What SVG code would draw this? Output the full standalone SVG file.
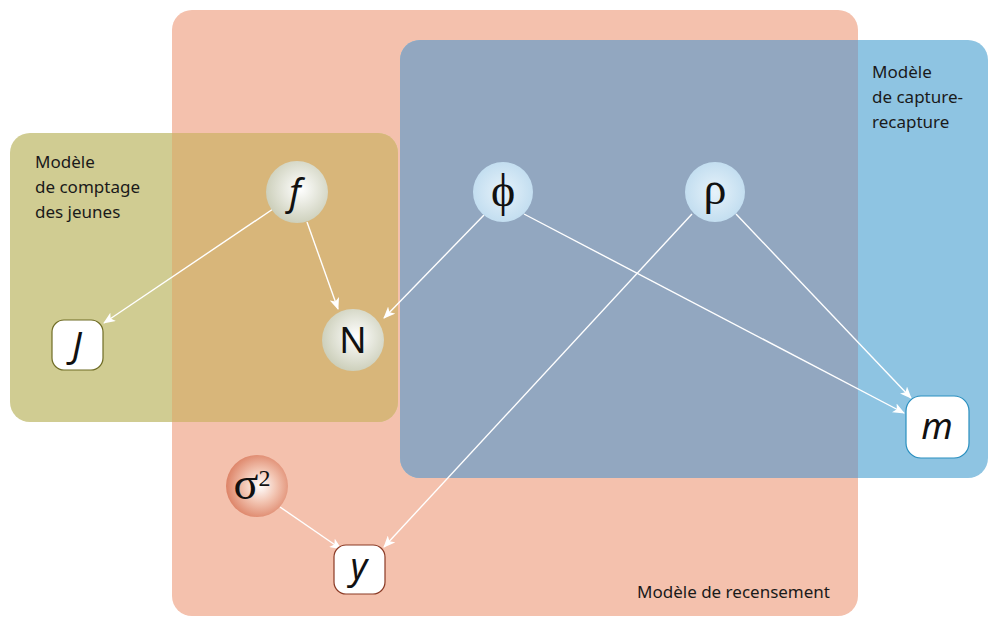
<svg xmlns="http://www.w3.org/2000/svg" width="990" height="618" viewBox="0 0 990 618">
<defs>
<style>
.lbl{font-family:"Noto Sans","Liberation Sans",sans-serif;font-size:17px;fill:#1a1a1a}
.sym{font-family:"Noto Sans","Liberation Sans",sans-serif;font-size:36px;fill:#111;text-anchor:middle}
.it{font-style:italic}
.gr{font-family:"Liberation Serif","DejaVu Serif",serif;font-size:46px;fill:#111;text-anchor:middle}
.edge{stroke:#ffffff;stroke-width:1.4;fill:none;marker-end:url(#ah)}
</style>
<marker id="ah" viewBox="0 0 12 10" refX="11" refY="5" markerWidth="12" markerHeight="10" markerUnits="userSpaceOnUse" orient="auto">
<path d="M0,0 L12,5 L0,10 L3,5 Z" fill="#ffffff"/>
</marker>
<radialGradient id="gOl" cx="0.55" cy="0.45" r="0.6">
<stop offset="0" stop-color="#ffffff"/>
<stop offset="1" stop-color="#c9ccb6"/>
</radialGradient>
<radialGradient id="gBl" cx="0.5" cy="0.5" r="0.6">
<stop offset="0" stop-color="#e6f2fa"/>
<stop offset="1" stop-color="#bcdaee"/>
</radialGradient>
<radialGradient id="gRd" cx="0.55" cy="0.5" r="0.6">
<stop offset="0" stop-color="#ffffff"/>
<stop offset="0.45" stop-color="#f2c3b0"/>
<stop offset="1" stop-color="#d9785a"/>
</radialGradient>
</defs>
<rect width="990" height="618" fill="#ffffff"/>
<g id="zones">
<rect id="recensement" x="172" y="10" width="686" height="606" rx="20" fill="#f4c1ad"/>
<rect id="comptage" x="10" y="133" width="388" height="289" rx="20" fill="#d0cc92"/>
<rect id="capture" x="400" y="40" width="588" height="438" rx="20" fill="#8ec4e2"/>
<path d="M172,133 H378 A20,20 0 0 1 398,153 V402 A20,20 0 0 1 378,422 H172 Z" fill="#d8b67a"/>
<path d="M420,40 H858 V478 H420 A20,20 0 0 1 400,458 V60 A20,20 0 0 1 420,40 Z" fill="#92a7c0"/>
<text class="lbl" x="35" y="168">Modèle</text>
<text class="lbl" x="35" y="193">de comptage</text>
<text class="lbl" x="35" y="218">des jeunes</text>
<text class="lbl" x="872" y="78">Modèle</text>
<text class="lbl" x="872" y="103">de capture-</text>
<text class="lbl" x="872" y="128">recapture</text>
<text class="lbl" x="830" y="598" text-anchor="end">Modèle de recensement</text>
</g>
<g id="connectors">
<line class="edge" x1="273" y1="209" x2="104" y2="323"/>
<line class="edge" x1="307" y1="222" x2="338" y2="309"/>
<line class="edge" x1="484" y1="215" x2="384" y2="318"/>
<line class="edge" x1="524" y1="214" x2="904" y2="413"/>
<line class="edge" x1="736" y1="214" x2="911" y2="398"/>
<line class="edge" x1="692" y1="214" x2="384" y2="547"/>
<line class="edge" x1="280" y1="507" x2="341" y2="549"/>
</g>
<g id="node-f"><circle cx="297" cy="192" r="31" fill="url(#gOl)"/><text class="sym it" x="295" y="205">f</text></g>
<g id="node-N"><circle cx="353" cy="340" r="31" fill="url(#gOl)"/><text class="sym" x="353" y="353">N</text></g>
<g id="node-J"><rect x="52" y="320" width="51" height="50" rx="12" fill="#ffffff" stroke="#6f6c25" stroke-width="1.2"/><text class="sym it" x="77" y="358">J</text></g>
<g id="node-phi"><circle cx="503" cy="192" r="30" fill="url(#gBl)"/><text class="gr" x="503" y="206">ϕ</text></g>
<g id="node-rho"><circle cx="715" cy="192" r="30" fill="url(#gBl)"/><text class="gr" x="715" y="204">ρ</text></g>
<g id="node-m"><rect x="906" y="396" width="63" height="62" rx="15" fill="#ffffff" stroke="#2a8fbf" stroke-width="1.2"/><text class="sym it" x="937" y="439">m</text></g>
<g id="node-sigma2"><circle cx="257" cy="486" r="31" fill="url(#gRd)"/><text class="gr" x="252" y="499">σ<tspan font-size="24" dy="-13">2</tspan></text></g>
<g id="node-y"><rect x="334" y="545" width="51" height="49" rx="12" fill="#ffffff" stroke="#8a3a25" stroke-width="1.2"/><text class="sym it" x="359" y="579">y</text></g>
</svg>
